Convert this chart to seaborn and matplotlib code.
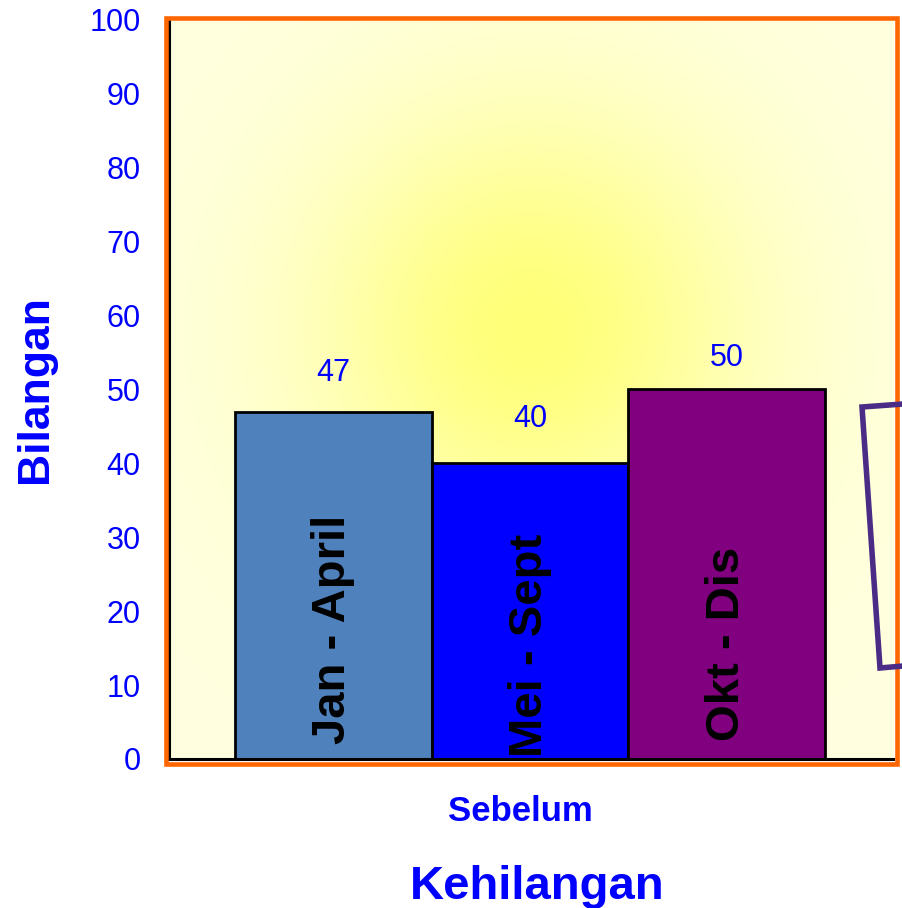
import numpy as np
import pandas as pd
import matplotlib.pyplot as plt
import seaborn as sns
from matplotlib.patches import Rectangle
from matplotlib.lines import Line2D
from matplotlib.transforms import ScaledTranslation

sns.set_style("white")
plt.rcParams["font.family"] = ["Liberation Sans", "DejaVu Sans"]

# data
group = ["Sebelum"]
periods = ["Jan - April", "Mei - Sept", "Okt - Dis"]
counts = [47, 40, 50]
colors = ["#4F81BD", "#0000FF", "#800080"]

df = pd.DataFrame({"group": group * len(periods), "period": periods, "count": counts})

fig = plt.figure(figsize=(9.03, 9.08), dpi=100)
ax = fig.add_axes([0.1872, 0.1641, 0.8018, 0.8139])

xlim = (-0.367, 0.369)

# pale yellow radial glow behind the bars
gx, gy = np.meshgrid(np.linspace(0, 1, 400), np.linspace(0, 1, 400))
r2 = ((gx - 0.50) / 0.30) ** 2 + ((gy - 0.58) / 0.30) ** 2
glow = np.exp(-r2)[..., None]
edge = np.array([255, 255, 224]) / 255
center = np.array([255, 255, 120]) / 255
img = edge + (center - edge) * glow
ax.imshow(img, extent=(xlim[0], xlim[1], 0, 100), origin="lower", aspect="auto", zorder=0)

sns.barplot(data=df, x="group", y="count", hue="period", hue_order=periods,
            palette=dict(zip(periods, colors)), saturation=1, width=0.6,
            edgecolor="black", linewidth=2, legend=False, ax=ax)

ax.set_xlim(*xlim)
ax.set_ylim(0, 100)
ax.set_yticks(range(0, 101, 10))

# value labels above bars (the original offsets are a bit uneven)
pads = [17, 21, 12]
for cont, pad in zip(ax.containers, pads):
    ax.bar_label(cont, padding=pad, fontsize=22, color="#0000FF")

# period names written inside the bars
bars = sorted(ax.patches, key=lambda p: p.get_x())
bars = [b for b in bars if b.get_height() > 0]
base = [2.0, 0.3, 2.4]
for b, name, y0 in zip(bars, periods, base):
    ax.text(b.get_x() + b.get_width() / 2, y0, name, rotation=90, ha="center", va="bottom",
            fontsize=34, fontweight="bold", color="black", zorder=5)

for s in ["top", "right"]:
    ax.spines[s].set_visible(False)
for s in ["left", "bottom"]:
    ax.spines[s].set_color("black")
    ax.spines[s].set_linewidth(2.2)

ax.tick_params(axis="y", direction="inout", length=15, width=1.5, color="black",
               pad=13, labelsize=22, labelcolor="#0000FF")
ax.tick_params(axis="x", length=0, pad=26, labelsize=25, labelcolor="#0000FF")
for lbl in ax.get_xticklabels():
    lbl.set_fontweight("bold")
    lbl.set_transform(lbl.get_transform() + ScaledTranslation(-0.1, 0, fig.dpi_scale_trans))

ax.set_xlabel("Kehilangan", fontsize=34, fontweight="bold", color="#0000FF")
ax.set_ylabel("Bilangan", fontsize=32, fontweight="bold", color="#0000FF")
ax.xaxis.set_label_coords(0.508, -0.143)
ax.yaxis.set_label_coords(-0.156, 0.5)

# orange plot-area border
frame = Rectangle((166 / 903, 1 - 763.5 / 908), 730.5 / 903, 746 / 908, transform=fig.transFigure,
                  fill=False, edgecolor="#FF6600", linewidth=3.3, zorder=5)
fig.add_artist(frame)

# clipped purple shape at the right edge
px = [903, 862, 880, 903]
py = [404, 407, 668, 666]
shape = Line2D([v / 903 for v in px], [1 - v / 908 for v in py], transform=fig.transFigure,
               color="#4A2C86", linewidth=4, solid_joinstyle="miter", zorder=6)
fig.add_artist(shape)

fig.savefig("out.png", dpi=100)
